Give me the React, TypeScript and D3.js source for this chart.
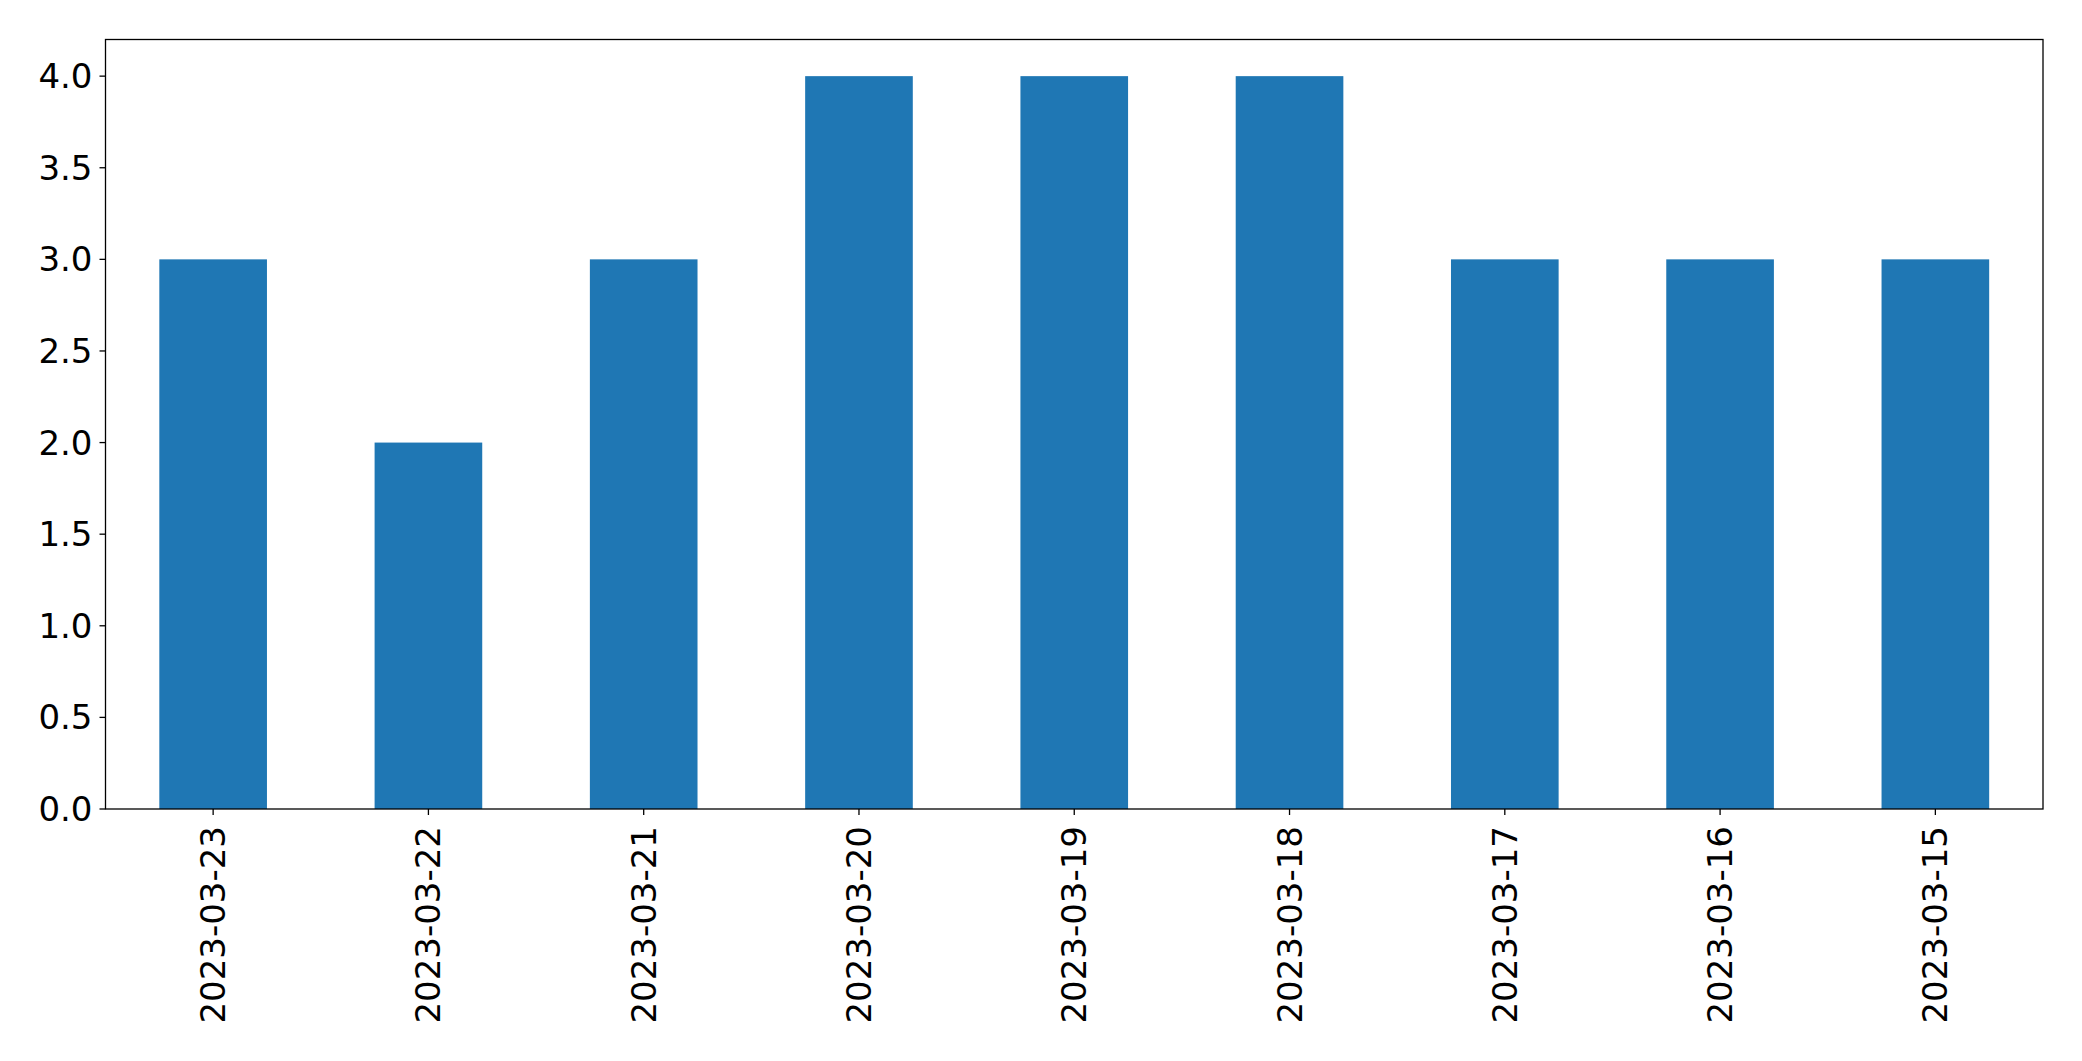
import React from "react";
import * as d3 from "d3";

const categories = ["2023-03-23", "2023-03-22", "2023-03-21", "2023-03-20", "2023-03-19", "2023-03-18", "2023-03-17", "2023-03-16", "2023-03-15"];
const values = [3, 2, 3, 4, 4, 4, 3, 3, 3];
const yTicks = [0, 0.5, 1, 1.5, 2, 2.5, 3, 3.5, 4];

const W = 2082;
const H = 1061;
const left = 105.5;
const right = 2043;
const top = 39.5;
const bottom = 809;
const font = "'DejaVu Sans', sans-serif";

export default function App() {
  const x = d3.scaleBand<string>().domain(categories).range([left, right]).paddingInner(0.5).paddingOuter(0.25);
  const y = d3.scaleLinear().domain([0, 4.2]).range([bottom, top]);
  return (
    <svg width={W} height={H} style={{ position: "absolute", left: 0, top: 0, background: "#fff" }}>
      <rect x={0} y={0} width={W} height={H} fill="#fff" />
      {categories.map((c, i) => (
        <rect key={c} x={x(c)!} y={y(values[i])} width={x.bandwidth()} height={y(0) - y(values[i])} fill="#1f77b4" />
      ))}
      <rect x={left} y={top} width={right - left} height={bottom - top} fill="none" stroke="#000" strokeWidth={1.3} />
      {yTicks.map((t) => (
        <g key={t}>
          <line x1={left - 6} x2={left} y1={y(t)} y2={y(t)} stroke="#000" strokeWidth={1.3} />
          <text x={left - 13} y={y(t)} textAnchor="end" dominantBaseline="central" fontFamily={font} fontSize={34} fill="#000">
            {t.toFixed(1)}
          </text>
        </g>
      ))}
      {categories.map((c) => {
        const cx = x(c)! + x.bandwidth() / 2;
        return (
          <g key={c}>
            <line x1={cx} x2={cx} y1={bottom} y2={bottom + 6} stroke="#000" strokeWidth={1.3} />
            <text transform={`translate(${cx},${bottom + 17}) rotate(-90)`} textAnchor="end" dominantBaseline="central" fontFamily={font} fontSize={34} fill="#000">
              {c}
            </text>
          </g>
        );
      })}
    </svg>
  );
}
